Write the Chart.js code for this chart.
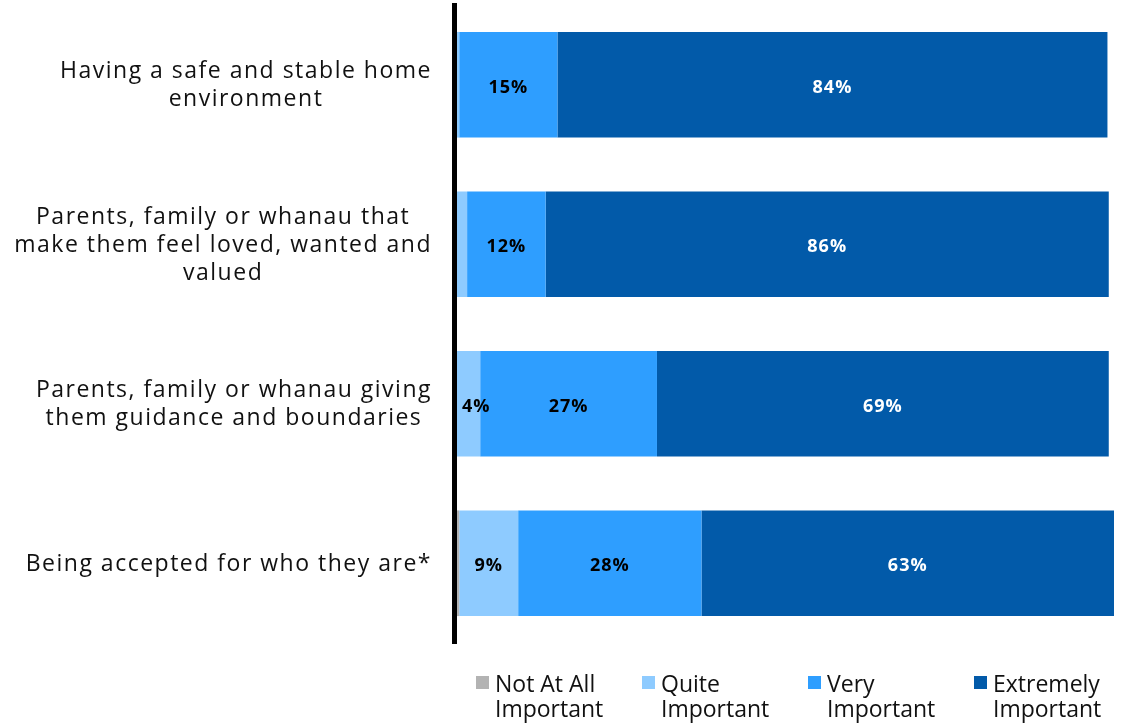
<!DOCTYPE html>
<html>
<head>
<meta charset="utf-8">
<script src="https://cdn.jsdelivr.net/npm/chart.js@4.4.1/dist/chart.umd.min.js"></script>
<style>
  html, body { margin: 0; padding: 0; background: #ffffff; }
  #wrap { position: relative; width: 1128px; height: 724px; overflow: hidden; }
  #legend { position: absolute; left: 476px; top: 671px; display: flex; font-family: "Open Sans", sans-serif; font-size: 23px; line-height: 25px; color: #111; }
  .item { display: flex; align-items: flex-start; width: 166px; }
  .box { width: 13px; height: 13px; margin-top: 5px; margin-right: 6px; flex: none; }
</style>
</head>
<body>
<div id="wrap">
  <canvas id="c" width="1128" height="724"></canvas>
  <div id="legend"></div>
</div>
<script>
// Statements rated for importance, top to bottom
const categories = [
  ["Having a safe and stable home", "environment"],
  ["Parents, family or whanau that", "make them feel loved, wanted and", "valued"],
  ["Parents, family or whanau giving", "them guidance and boundaries"],
  ["Being accepted for who they are*"]
];

// Share of responses (%) per importance level
const notAtAll  = [0, 0, 0, 0.8];
const quite     = [0.8, 2, 4, 9];
const very      = [15, 12, 27, 28];
const extremely = [84, 86, 69, 63];

const seriesNames  = [["Not At All", "Important"], ["Quite", "Important"], ["Very", "Important"], ["Extremely", "Important"]];
const seriesColors = ["#b3b3b3", "#8ecbff", "#2e9eff", "#025aa9"];
const labelColors  = ["#000000", "#000000", "#000000", "#ffffff"];

const seriesValues = [notAtAll, quite, very, extremely];
const totals = categories.map((_, i) => seriesValues.reduce((s, arr) => s + arr[i], 0));

// Percentage labels in the middle of each segment, kept clear of the axis line
const valueLabels = {
  id: 'valueLabels',
  afterDraw(chart) {
    const ctx = chart.ctx;
    const left = chart.chartArea.left;
    ctx.save();
    ctx.font = 'bold 18px "Open Sans", sans-serif';
    ctx.letterSpacing = '1px';
    ctx.textAlign = 'center';
    ctx.textBaseline = 'middle';
    chart.data.datasets.forEach((ds, di) => {
      const meta = chart.getDatasetMeta(di);
      meta.data.forEach((bar, i) => {
        const v = ds.data[i];
        if (v < 3) return;
        const text = Math.round(v) + '%';
        const w = ctx.measureText(text).width;
        const cx = Math.max((bar.x + bar.base) / 2, left + 8 + w / 2);
        ctx.fillStyle = labelColors[di];
        ctx.fillText(text, cx, bar.y + 3);
      });
    });
    ctx.restore();
  }
};

// Category text: each block right-aligned to the axis, its lines centred within the block
const categoryLabels = {
  id: 'categoryLabels',
  afterDraw(chart) {
    const ctx = chart.ctx;
    const yScale = chart.scales.y;
    ctx.save();
    ctx.font = '23px "Open Sans", sans-serif';
    ctx.letterSpacing = '1.5px';
    ctx.fillStyle = '#111111';
    ctx.textAlign = 'center';
    ctx.textBaseline = 'middle';
    const lh = 28;
    const right = chart.chartArea.left - 22;
    categories.forEach((lines, i) => {
      const y = yScale.getPixelForTick(i) + 1;
      const w = Math.max(...lines.map(l => ctx.measureText(l).width));
      const cx = right - w / 2;
      const y0 = y - (lines.length - 1) * lh / 2;
      lines.forEach((l, k) => ctx.fillText(l, cx, y0 + k * lh));
    });
    ctx.restore();
  }
};

const chart = new Chart(document.getElementById('c'), {
  type: 'bar',
  data: {
    labels: categories,
    datasets: seriesValues.map((vals, k) => ({
      label: seriesNames[k].join(' '),
      data: vals,
      backgroundColor: seriesColors[k],
      borderWidth: 0,
      categoryPercentage: 1,
      barPercentage: 0.6625
    }))
  },
  options: {
    indexAxis: 'y',
    responsive: false,
    animation: false,
    layout: { padding: { top: 5, bottom: 81, right: 14, left: 0 } },
    scales: {
      x: {
        stacked: true,
        display: false,
        min: 0,
        max: Math.max(...totals)
      },
      y: {
        stacked: true,
        grid: { display: false, drawTicks: false },
        border: { display: true, color: '#000000', width: 5, z: 1 },
        ticks: { display: false },
        afterFit(scale) { scale.width = 454; }
      }
    },
    plugins: {
      legend: { display: false },
      tooltip: { enabled: false }
    }
  },
  plugins: [valueLabels, categoryLabels]
});

// Legend below the plot, built from the series names and colours
const legendEl = document.getElementById('legend');
seriesNames.forEach((lines, k) => {
  const item = document.createElement('div');
  item.className = 'item';
  const box = document.createElement('div');
  box.className = 'box';
  box.style.background = seriesColors[k];
  const txt = document.createElement('div');
  txt.innerHTML = lines.join('<br>');
  item.appendChild(box);
  item.appendChild(txt);
  legendEl.appendChild(item);
});
</script>
</body>
</html>
